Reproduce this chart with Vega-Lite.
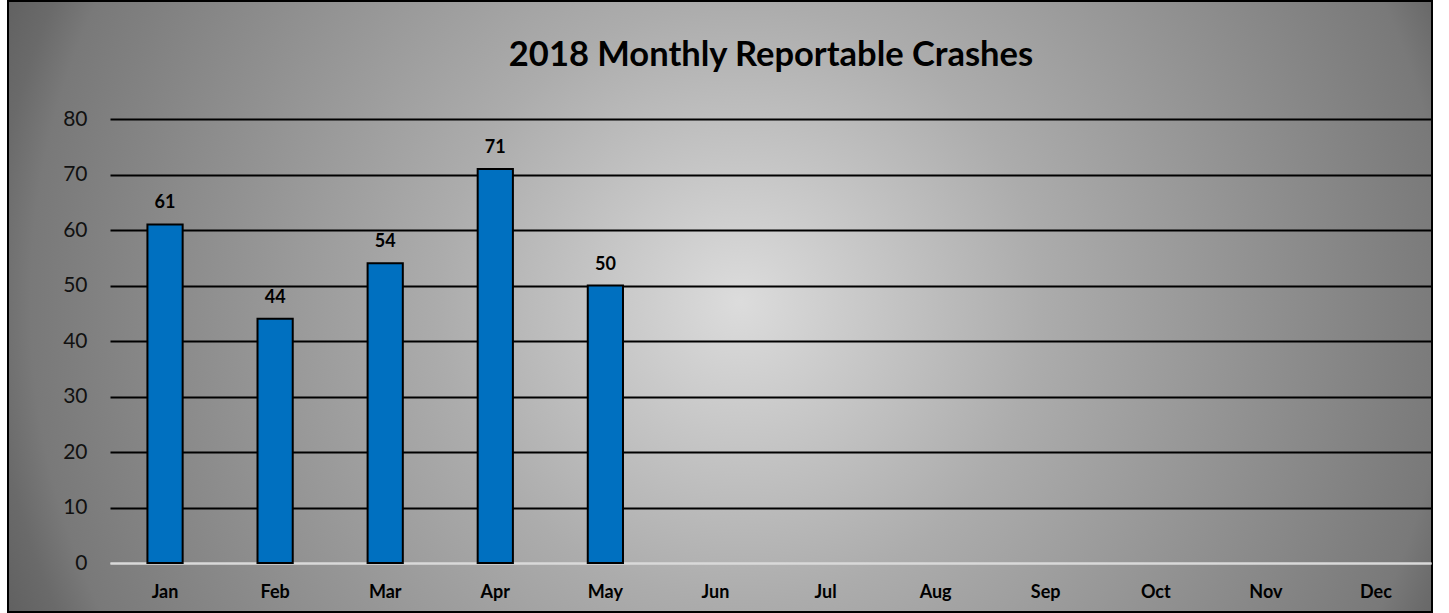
{
  "$schema": "https://vega.github.io/schema/vega-lite/v6.json",
  "width": 1424,
  "height": 611,
  "autosize": "none",
  "padding": {"left": 8, "top": 1, "right": 17, "bottom": 1},
  "background": "white",
  "view": {
    "fill": {"expr": "{gradient: 'radial', x1: 0.514, y1: 0.497, r1: 0, x2: 0.514, y2: 0.497, r2: 0.56, stops: [{offset: 0, color: '#dcdcdc'}, {offset: 0.376, color: '#acacac'}, {offset: 0.89, color: '#797979'}, {offset: 0.94, color: '#6a6a6a'}, {offset: 1, color: '#606060'}]}"},
    "stroke": "black",
    "strokeWidth": 2
  },
  "title": {
    "text": "2018 Monthly Reportable Crashes",
    "font": "Lato",
    "fontSize": 34.5,
    "fontWeight": "bold",
    "color": "black",
    "anchor": "middle",
    "baseline": "alphabetic",
    "offset": -99,
    "dx": 51
  },
  "data": {
    "values": [
      {"month": "Jan", "crashes": 61},
      {"month": "Feb", "crashes": 44},
      {"month": "Mar", "crashes": 54},
      {"month": "Apr", "crashes": 71},
      {"month": "May", "crashes": 50},
      {"month": "Jun", "crashes": null},
      {"month": "Jul", "crashes": null},
      {"month": "Aug", "crashes": null},
      {"month": "Sep", "crashes": null},
      {"month": "Oct", "crashes": null},
      {"month": "Nov", "crashes": null},
      {"month": "Dec", "crashes": null}
    ]
  },
  "encoding": {
    "x": {
      "field": "month",
      "type": "nominal",
      "sort": null,
      "scale": {
        "domain": ["Jan", "Feb", "Mar", "Apr", "May", "Jun", "Jul", "Aug", "Sep", "Oct", "Nov", "Dec"],
        "range": [102, 1423],
        "paddingInner": 0.68,
        "paddingOuter": 0.34
      },
      "axis": {
        "title": null,
        "orient": "bottom",
        "offset": -49,
        "domainColor": "#d9d9d9",
        "domainWidth": 2,
        "ticks": false,
        "grid": false,
        "labelAngle": 0,
        "labelFont": "Lato",
        "labelFontSize": 18,
        "labelFontWeight": "bold",
        "labelColor": "black",
        "labelPadding": 20,
        "labelBaseline": "top",
        "zindex": 0
      }
    },
    "y": {
      "field": "crashes",
      "type": "quantitative",
      "scale": {"domain": [0, 80], "range": [562, 118], "nice": false, "zero": true},
      "axis": {
        "title": null,
        "values": [0, 10, 20, 30, 40, 50, 60, 70, 80],
        "offset": -102,
        "domain": false,
        "ticks": false,
        "grid": true,
        "gridColor": {"condition": {"test": "datum.value === 0", "value": "#d9d9d9"}, "value": "black"},
        "gridWidth": 2,
        "gridOpacity": 1,
        "labelFont": "Lato",
        "labelFontSize": 21,
        "labelColor": "#111111",
        "labelPadding": 23,
        "zindex": 0
      }
    }
  },
  "layer": [
    {
      "mark": {"type": "bar", "fill": "#0070C0", "stroke": "black", "strokeWidth": 2}
    },
    {
      "mark": {
        "type": "text",
        "font": "Lato",
        "fontSize": 18,
        "fontWeight": "bold",
        "color": "black",
        "align": "center",
        "baseline": "alphabetic",
        "dy": -16
      },
      "encoding": {"text": {"field": "crashes", "type": "quantitative"}}
    }
  ]
}
